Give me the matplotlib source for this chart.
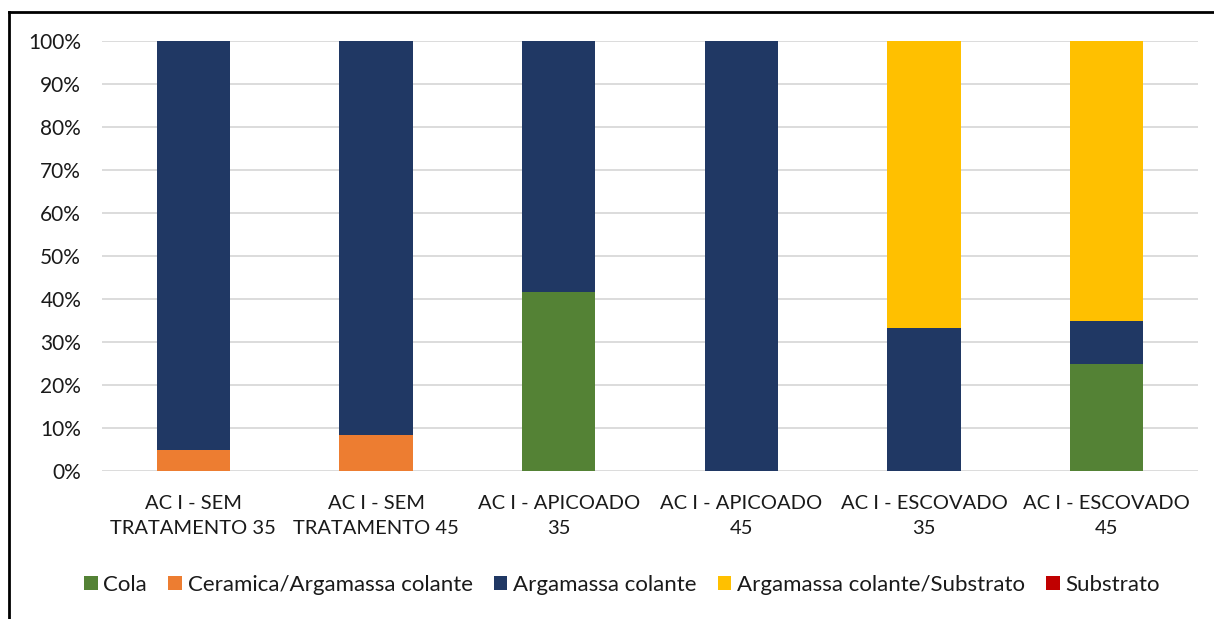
import matplotlib
matplotlib.use("Agg")
import matplotlib.pyplot as plt
from matplotlib.lines import Line2D
from matplotlib.patches import Patch
from matplotlib.ticker import PercentFormatter

plt.rcParams['font.family'] = ['Lato', 'DejaVu Sans']

categories = ["AC I - SEM\nTRATAMENTO 35", "AC I - SEM\nTRATAMENTO 45",
              "AC I - APICOADO\n35", "AC I - APICOADO\n45",
              "AC I - ESCOVADO\n35", "AC I - ESCOVADO\n45"]
series_names = ["Cola", "Ceramica/Argamassa colante", "Argamassa colante",
                "Argamassa colante/Substrato", "Substrato"]
cola = [0, 0, 41.67, 0, 0, 25]
ceramica = [5, 8.33, 0, 0, 0, 0]
argamassa = [95, 91.67, 58.33, 100, 33.33, 10]
arg_substrato = [0, 0, 0, 0, 66.67, 65]
substrato = [0, 0, 0, 0, 0, 0]
colors = ["#548235", "#ED7D31", "#203864", "#FFC000", "#C00000"]

fig = plt.figure(figsize=(12.14, 6.19), dpi=100)
ax = fig.add_axes([102 / 1214, 1 - 471 / 619, 1096 / 1214, 430 / 619])

x = list(range(len(categories)))
bottom = [0] * len(categories)
for vals, col in zip([cola, ceramica, argamassa, arg_substrato, substrato], colors):
    ax.bar(x, vals, bottom=bottom, width=0.4, color=col, zorder=3)
    bottom = [b + v for b, v in zip(bottom, vals)]

ax.set_xlim(-0.5, len(categories) - 0.5)
ax.set_ylim(0, 100)
ax.set_yticks(range(0, 101, 10))
ax.yaxis.set_major_formatter(PercentFormatter(decimals=0))
ax.set_xticks(x)
ax.set_xticklabels(categories, fontsize=14.5, color="#1a1a1a", linespacing=1.6)
ax.tick_params(axis='y', labelsize=15, labelcolor="#1a1a1a", length=0, pad=15)
ax.tick_params(axis='x', length=0, pad=17)
ax.grid(axis='y', color="#D9D9D9", linewidth=1.3, zorder=0)
for s in ax.spines.values():
    s.set_visible(False)

handles = [Patch(facecolor=c, edgecolor='none') for c in colors]
fig.legend(handles, series_names, loc='center', bbox_to_anchor=(622 / 1214, 1 - 585 / 619),
           ncol=5, frameon=False, fontsize=16, handlelength=0.62, handleheight=0.62,
           handletextpad=0.25, columnspacing=0.95, labelcolor="#1a1a1a")

# frame along top and left edges
fig.add_artist(Line2D([9 / 1214, 1], [1 - 12 / 619, 1 - 12 / 619], color='black', lw=2,
                      transform=fig.transFigure))
fig.add_artist(Line2D([9 / 1214, 9 / 1214], [0, 1 - 12 / 619], color='black', lw=2,
                      transform=fig.transFigure))

fig.savefig("out.png", dpi=100, facecolor='white')
